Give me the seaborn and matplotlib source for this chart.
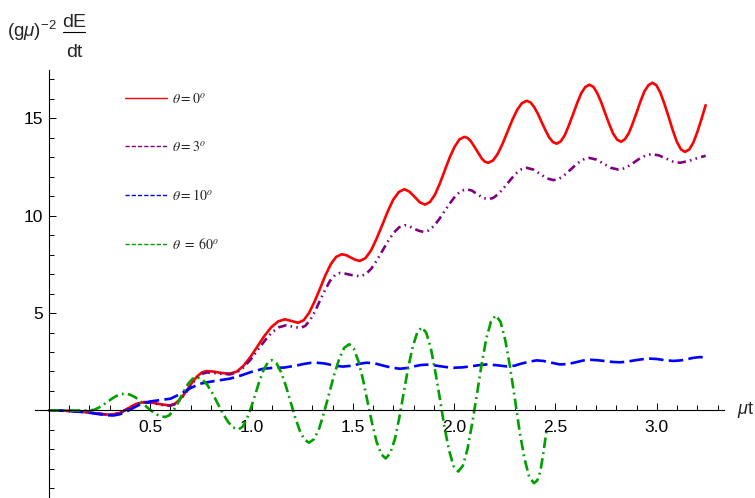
import matplotlib

matplotlib.use("Agg")
import matplotlib.pyplot as plt
import pandas as pd
import seaborn as sns
from matplotlib.lines import Line2D
from matplotlib.ticker import MultipleLocator, FixedLocator

# values
t_red = [0.0, 0.05, 0.1, 0.15, 0.2, 0.25, 0.28, 0.31, 0.35, 0.39, 0.43, 0.47, 0.502, 0.533,
         0.565, 0.597, 0.62, 0.642, 0.665, 0.688, 0.71, 0.733, 0.755, 0.778, 0.807, 0.835,
         0.864, 0.893, 0.927, 0.961, 0.995, 1.029, 1.063, 1.097, 1.131, 1.165, 1.198, 1.23,
         1.257, 1.284, 1.311, 1.338, 1.364, 1.391, 1.418, 1.445, 1.468, 1.49, 1.513, 1.535,
         1.562, 1.59, 1.617, 1.645, 1.672, 1.699, 1.727, 1.754, 1.779, 1.805, 1.83, 1.856,
         1.88, 1.905, 1.929, 1.953, 1.977, 2.002, 2.026, 2.05, 2.065, 2.08, 2.094, 2.109,
         2.124, 2.138, 2.153, 2.168, 2.192, 2.215, 2.239, 2.263, 2.287, 2.311, 2.334, 2.358,
         2.377, 2.395, 2.414, 2.432, 2.451, 2.469, 2.488, 2.506, 2.526, 2.546, 2.566, 2.587,
         2.607, 2.627, 2.647, 2.667, 2.687, 2.706, 2.726, 2.745, 2.765, 2.784, 2.804, 2.823,
         2.842, 2.862, 2.881, 2.901, 2.92, 2.939, 2.959, 2.978, 2.998, 3.018, 3.038, 3.059,
         3.079, 3.099, 3.119, 3.139, 3.16, 3.18, 3.2, 3.22, 3.241]
v_red = [0.0, -0.01, -0.03, -0.06, -0.11, -0.17, -0.21, -0.22, -0.13, 0.1, 0.33, 0.43, 0.41, 0.35,
         0.29, 0.26, 0.33, 0.52, 0.8, 1.14, 1.48, 1.76, 1.95, 2.02, 2.0, 1.95,
         1.91, 1.89, 1.99, 2.3, 2.75, 3.28, 3.82, 4.27, 4.57, 4.68, 4.59, 4.5,
         4.63, 5.01, 5.59, 6.26, 6.93, 7.51, 7.89, 8.02, 7.97, 7.85, 7.73, 7.68,
         7.82, 8.22, 8.82, 9.52, 10.22, 10.82, 11.22, 11.36, 11.24, 10.97, 10.69, 10.57,
         10.7, 11.08, 11.65, 12.31, 12.97, 13.54, 13.92, 14.05, 14.0, 13.86, 13.64, 13.39,
         13.13, 12.91, 12.77, 12.72, 12.84, 13.18, 13.7, 14.31, 14.92, 15.44, 15.78, 15.9,
         15.82, 15.58, 15.22, 14.8, 14.38, 14.02, 13.78, 13.7, 13.82, 14.14, 14.64, 15.22,
         15.79, 16.29, 16.61, 16.73, 16.62, 16.3, 15.82, 15.27, 14.71, 14.23, 13.91, 13.8,
         13.92, 14.24, 14.74, 15.32, 15.89, 16.39, 16.71, 16.83, 16.7, 16.31, 15.73, 15.06,
         14.38, 13.8, 13.41, 13.28, 13.4, 13.75, 14.3, 14.95, 15.68]

t_purple = [0.0, 0.05, 0.1, 0.15, 0.2, 0.25, 0.28, 0.31, 0.35, 0.39, 0.43, 0.47, 0.502, 0.533,
            0.565, 0.597, 0.62, 0.643, 0.666, 0.689, 0.711, 0.734, 0.757, 0.78, 0.808, 0.836,
            0.864, 0.893, 0.928, 0.962, 0.997, 1.031, 1.066, 1.1, 1.135, 1.17, 1.205, 1.24,
            1.265, 1.289, 1.314, 1.338, 1.363, 1.387, 1.412, 1.436, 1.46, 1.485, 1.51, 1.535,
            1.563, 1.59, 1.618, 1.646, 1.674, 1.702, 1.729, 1.757, 1.78, 1.8, 1.825, 1.848,
            1.875, 1.902, 1.928, 1.955, 1.982, 2.008, 2.035, 2.062, 2.088, 2.115, 2.141, 2.168,
            2.192, 2.215, 2.239, 2.263, 2.287, 2.311, 2.334, 2.358, 2.391, 2.424, 2.457, 2.49,
            2.512, 2.534, 2.556, 2.578, 2.6, 2.623, 2.645, 2.667, 2.703, 2.738, 2.774, 2.81,
            2.83, 2.851, 2.872, 2.892, 2.913, 2.934, 2.955, 2.975, 3.01, 3.045, 3.08, 3.115,
            3.16, 3.2, 3.241]
v_purple = [0.0, -0.01, -0.03, -0.06, -0.11, -0.17, -0.21, -0.22, -0.14, 0.08, 0.31, 0.41, 0.39, 0.33,
            0.27, 0.24, 0.31, 0.49, 0.77, 1.1, 1.42, 1.7, 1.88, 1.95, 1.93, 1.9,
            1.87, 1.85, 1.95, 2.22, 2.63, 3.11, 3.59, 4.0, 4.27, 4.37, 4.3, 4.23,
            4.34, 4.64, 5.1, 5.65, 6.19, 6.65, 6.95, 7.06, 7.03, 6.97, 6.92, 6.89,
            6.99, 7.27, 7.7, 8.2, 8.7, 9.13, 9.41, 9.51, 9.45, 9.34, 9.23, 9.17,
            9.25, 9.49, 9.85, 10.27, 10.68, 11.04, 11.28, 11.36, 11.29, 11.1, 10.92, 10.85,
            10.91, 11.09, 11.35, 11.66, 11.96, 12.22, 12.4, 12.46, 12.37, 12.15, 11.92, 11.83,
            11.87, 12.0, 12.2, 12.4, 12.62, 12.8, 12.93, 12.97, 12.88, 12.67, 12.46, 12.37,
            12.4, 12.49, 12.62, 12.77, 12.92, 13.04, 13.13, 13.16, 13.1, 12.94, 12.78, 12.72,
            12.82, 12.96, 13.08]

t_blue = [0.0, 0.05, 0.1, 0.15, 0.2, 0.25, 0.29, 0.318, 0.35, 0.39, 0.43, 0.46, 0.5, 0.55,
          0.6, 0.65, 0.7, 0.745, 0.8, 0.85, 0.893, 0.95, 1.0, 1.058, 1.1, 1.16, 1.22, 1.26,
          1.29, 1.32, 1.36, 1.41, 1.45, 1.5, 1.535, 1.568, 1.61, 1.65, 1.69, 1.732, 1.77,
          1.8, 1.835, 1.864, 1.9, 1.93, 1.965, 1.996, 2.04, 2.08, 2.12, 2.16, 2.21, 2.26,
          2.3, 2.33, 2.37, 2.407, 2.44, 2.48, 2.522, 2.56, 2.6, 2.635, 2.67, 2.705, 2.74,
          2.78, 2.818, 2.85, 2.89, 2.93, 2.966, 3.0, 3.04, 3.082, 3.12, 3.15, 3.18, 3.213,
          3.25]
v_blue = [0.0, -0.01, -0.03, -0.07, -0.12, -0.2, -0.25, -0.26, -0.2, -0.02, 0.2, 0.36, 0.46, 0.53,
          0.6, 0.85, 1.15, 1.37, 1.48, 1.56, 1.63, 1.8, 1.98, 2.14, 2.18, 2.2, 2.3, 2.39,
          2.44, 2.45, 2.41, 2.3, 2.25, 2.3, 2.4, 2.45, 2.41, 2.3, 2.2, 2.14, 2.18,
          2.26, 2.33, 2.35, 2.32, 2.27, 2.22, 2.19, 2.21, 2.26, 2.32, 2.36, 2.32, 2.26,
          2.3, 2.4, 2.5, 2.57, 2.54, 2.45, 2.36, 2.38, 2.47, 2.56, 2.6, 2.58, 2.54,
          2.49, 2.47, 2.5, 2.57, 2.63, 2.66, 2.64, 2.58, 2.54, 2.57, 2.63, 2.7, 2.74,
          2.7]

t_green = [0.0, 0.1, 0.2, 0.222, 0.244, 0.266, 0.288, 0.309, 0.331, 0.353, 0.375, 0.4, 0.425,
           0.449, 0.474, 0.499, 0.524, 0.548, 0.573, 0.593, 0.612, 0.632, 0.651, 0.671, 0.69,
           0.71, 0.729, 0.755, 0.781, 0.807, 0.832, 0.858, 0.884, 0.909, 0.935, 0.956, 0.976,
           0.997, 1.018, 1.038, 1.059, 1.079, 1.1, 1.123, 1.146, 1.169, 1.192, 1.215, 1.238,
           1.261, 1.284, 1.309, 1.334, 1.358, 1.383, 1.408, 1.433, 1.457, 1.482, 1.504, 1.527,
           1.55, 1.572, 1.595, 1.617, 1.64, 1.662, 1.684, 1.707, 1.729, 1.751, 1.773, 1.796,
           1.818, 1.84, 1.862, 1.885, 1.907, 1.93, 1.952, 1.975, 1.997, 2.02, 2.043, 2.066,
           2.089, 2.113, 2.136, 2.159, 2.182, 2.205, 2.229, 2.252, 2.276, 2.3, 2.323, 2.347,
           2.37, 2.394, 2.41, 2.425, 2.44, 2.455]
v_green = [0.0, -0.01, 0.0, 0.03, 0.13, 0.27, 0.43, 0.59, 0.73, 0.83, 0.86, 0.81, 0.68,
           0.49, 0.26, 0.03, -0.16, -0.29, -0.34, -0.26, -0.04, 0.29, 0.69, 1.08, 1.41,
           1.63, 1.71, 1.61, 1.32, 0.88, 0.37, -0.15, -0.59, -0.88, -0.98, -0.84, -0.46,
           0.12, 0.8, 1.48, 2.06, 2.44, 2.58, 2.42, 1.96, 1.27, 0.46, -0.35, -1.04,
           -1.5, -1.66, -1.47, -0.92, -0.1, 0.87, 1.84, 2.66, 3.21, 3.4, 3.18, 2.54,
           1.59, 0.47, -0.66, -1.61, -2.25, -2.47, -2.21, -1.49, -0.39, 0.9, 2.19, 3.29,
           4.01, 4.27, 3.99, 3.19, 1.98, 0.57, -0.85, -2.06, -2.86, -3.14, -2.84, -1.97,
           -0.66, 0.87, 2.4, 3.71, 4.57, 4.88, 4.55, 3.62, 2.22, 0.57, -1.08, -2.48,
           -3.41, -3.74, -3.6, -3.15, -2.2, -1.1]

labels = [r"$\theta{=}0^o$", r"$\theta{=}3^o$", r"$\theta{=}10^o$", r"$\theta\ {=}\ 60^o$"]
colors = ["#ff0000", "#800080", "#0000ff", "#00a000"]
x_ticks = [0.5, 1.0, 1.5, 2.0, 2.5, 3.0]
y_ticks = [5, 10, 15]

series = [(t_red, v_red), (t_purple, v_purple), (t_blue, v_blue), (t_green, v_green)]
styles = [
    "-",
    (0, (3.2, 1.6, 0.6, 1.6, 0.6, 1.6)),
    (0, (5.5, 2.0)),
    (0, (4.0, 1.6, 0.7, 1.6)),
]

sns.set_theme(style="white")
plt.rcParams["font.family"] = ["Liberation Sans", "DejaVu Sans"]
plt.rcParams["mathtext.fontset"] = "custom"
plt.rcParams["mathtext.rm"] = "Liberation Sans"
plt.rcParams["mathtext.it"] = "Liberation Sans:italic"

fig = plt.figure(figsize=(7.55, 4.98), dpi=100)
ax = fig.add_axes([0.046, 0.0, 0.9125, 0.86])

for (t, v), color, ls in zip(series, colors, styles):
    df = pd.DataFrame({"t": t, "v": v})
    sns.lineplot(data=df, x="t", y="v", ax=ax, color=color, linestyle=ls,
                 linewidth=1.9, sort=False, estimator=None)

ax.set_xlim(-0.07, 3.33)
ax.set_ylim(-4.5, 17.5)
ax.set_xlabel("")
ax.set_ylabel("")

for side in ["top", "right"]:
    ax.spines[side].set_visible(False)
for side in ["left", "bottom"]:
    ax.spines[side].set_position(("data", 0))
    ax.spines[side].set_color("black")
    ax.spines[side].set_linewidth(0.8)

ax.xaxis.set_major_locator(FixedLocator(x_ticks))
ax.xaxis.set_minor_locator(MultipleLocator(0.1))
ax.yaxis.set_major_locator(FixedLocator(y_ticks))
ax.yaxis.set_minor_locator(MultipleLocator(1))
ax.set_xticklabels([f"{x:.1f}" for x in x_ticks])
ax.set_yticklabels([str(y) for y in y_ticks])
ax.tick_params(which="both", direction="in", color="black", width=0.7,
               bottom=True, left=True, labelsize=12.5, labelcolor="black")
ax.tick_params(which="major", length=5.2, pad=7)
ax.tick_params(which="minor", length=3.4)
ax.tick_params(axis="y", which="major", pad=4)

handles = [
    Line2D([], [], color=colors[0], linewidth=1.0),
    Line2D([], [], color=colors[1], linewidth=1.0, linestyle=(0, (3, 1.5))),
    Line2D([], [], color=colors[2], linewidth=1.0, linestyle=(0, (3, 1.5))),
    Line2D([], [], color=colors[3], linewidth=1.0, linestyle=(0, (3, 1.5))),
]
leg = ax.legend(handles, labels, loc="upper left", bbox_to_anchor=(125 / 755, 1 - 92 / 498),
                bbox_transform=fig.transFigure, frameon=False, borderpad=0,
                borderaxespad=0, handlelength=3.0, handletextpad=0.4, labelspacing=2.45,
                prop={"size": 10, "math_fontfamily": "stix"})

# y label: (g mu)^-2 dE/dt, fraction drawn by hand so it keeps full size
fig.text(7 / 755, 1 - 37 / 498, r"$(\mathrm{g}\mu)^{-2}$", fontsize=13.5,
         va="baseline", ha="left")
fig.text(74 / 755, 1 - 27 / 498, "dE", fontsize=14, va="baseline", ha="center")
fig.text(74 / 755, 1 - 57 / 498, "dt", fontsize=14, va="baseline", ha="center")
fig.add_artist(Line2D([63 / 755, 85 / 755], [1 - 32.5 / 498, 1 - 32.5 / 498],
                      color="black", linewidth=0.8))
fig.text(737 / 755, 1 - 410 / 498, r"$\mu$t", fontsize=13, va="center", ha="left")

fig.savefig("out.png", dpi=100)
